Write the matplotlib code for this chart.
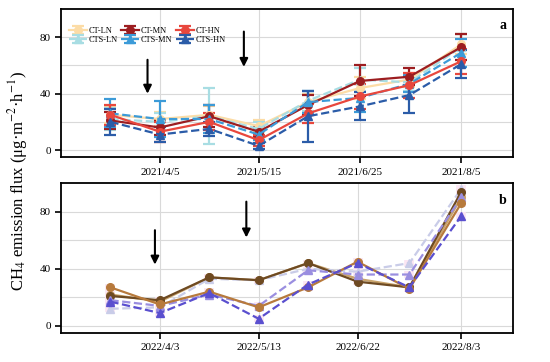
import matplotlib.pyplot as plt
import matplotlib.dates as mdates
import numpy as np
from datetime import date

plt.rcParams['font.family'] = ['Liberation Serif', 'DejaVu Serif']
plt.rcParams['mathtext.fontset'] = 'stix'

# sampling dates
dates_a = [date(2021, 3, 16), date(2021, 4, 5), date(2021, 4, 25), date(2021, 5, 15),
           date(2021, 6, 4), date(2021, 6, 25), date(2021, 7, 15), date(2021, 8, 5)]
dates_b = [date(2022, 3, 14), date(2022, 4, 3), date(2022, 4, 23), date(2022, 5, 13),
           date(2022, 6, 2), date(2022, 6, 22), date(2022, 7, 13), date(2022, 8, 3)]
ticks_a = [date(2021, 4, 5), date(2021, 5, 15), date(2021, 6, 25), date(2021, 8, 5)]
ticks_b = [date(2022, 4, 3), date(2022, 5, 13), date(2022, 6, 22), date(2022, 8, 3)]
ticklabels_a = ['2021/4/5', '2021/5/15', '2021/6/25', '2021/8/5']
ticklabels_b = ['2022/4/3', '2022/5/13', '2022/6/22', '2022/8/3']

names = ['CT-LN', 'CTS-LN', 'CT-MN', 'CTS-MN', 'CT-HN', 'CTS-HN']

# panel a (2021) means and errors, same order as names
a_ct_ln = [25, 22, 25, 17, 34, 44, 50, 75]
a_cts_ln = [22, 20, 24, 15, 35, 50, 48, 73]
a_ct_mn = [21, 16, 24, 13, 32, 49, 52, 73]
a_cts_mn = [26, 22, 22, 11, 34, 37, 47, 69]
a_ct_hn = [25, 13, 20, 7, 26, 38, 46, 63]
a_cts_hn = [20, 11, 15, 3, 24, 31, 39, 61]

a_err_ct_ln = [6, 5, 6, 4, 6, 8, 5, 7]
a_err_cts_ln = [8, 6, 20, 5, 7, 8, 6, 9]
a_err_ct_mn = [6, 5, 8, 4, 7, 11, 6, 9]
a_err_cts_mn = [10, 13, 10, 4, 8, 10, 6, 10]
a_err_ct_hn = [7, 7, 6, 4, 7, 9, 9, 9]
a_err_cts_hn = [9, 5, 5, 2, 18, 10, 13, 10]

# panel b (2022)
b_ct_ln = [22, 17, 34, 32, 44, 33, 27, 90]
b_cts_ln = [12, 13, 33, 32, 40, 38, 44, 96]
b_ct_mn = [21, 18, 34, 32, 44, 31, 27, 94]
b_cts_mn = [18, 14, 22, 14, 39, 36, 36, 90]
b_ct_hn = [27, 15, 24, 13, 27, 45, 26, 86]
b_cts_hn = [17, 9, 23, 5, 29, 44, 27, 77]

colors_a = ['#fcdca6', '#a8dde3', '#9c1d20', '#3c9bd8', '#e8473d', '#2b5ca8']
colors_b = ['#c9a46c', '#c9cce8', '#6e4a22', '#9a8ee0', '#b77a3c', '#5a4fcf']

data_a = [a_ct_ln, a_cts_ln, a_ct_mn, a_cts_mn, a_ct_hn, a_cts_hn]
err_a = [a_err_ct_ln, a_err_cts_ln, a_err_ct_mn, a_err_cts_mn, a_err_ct_hn, a_err_cts_hn]
data_b = [b_ct_ln, b_cts_ln, b_ct_mn, b_cts_mn, b_ct_hn, b_cts_hn]

fig = plt.figure(figsize=(5.5, 3.62), dpi=100)
ax_a = fig.add_axes([0.111, 0.566, 0.822, 0.409])
ax_b = fig.add_axes([0.111, 0.080, 0.822, 0.414])

for i, name in enumerate(names):
    is_cts = name.startswith('CTS')
    ls = '--' if is_cts else '-'
    mk = '^' if is_cts else 'o'
    ax_a.errorbar(dates_a, data_a[i], yerr=err_a[i], color=colors_a[i], ls=ls,
                  marker=mk, ms=5.5, lw=1.6, capsize=4, capthick=1.6, elinewidth=1.6,
                  label=name, zorder=3)
    ax_b.errorbar(dates_b, data_b[i], yerr=2.5, color=colors_b[i], ls=ls,
                  marker=mk, ms=5.5, lw=1.6, capsize=0, ecolor='#fbe6f3',
                  elinewidth=7, zorder=3)

leg = ax_a.legend(ncol=3, loc='upper left', bbox_to_anchor=(0.0, 0.93), frameon=False,
                  fontsize=6, handlelength=2.2, columnspacing=0.4, labelspacing=0.1,
                  handletextpad=0.2)

arrows_a = [(date(2021, 3, 31), 66, 38), (date(2021, 5, 9), 86, 57)]
arrows_b = [(date(2022, 4, 1), 69, 41), (date(2022, 5, 8), 89, 60)]

for ax, arrows, ticks, labels, dts, tag in [
        (ax_a, arrows_a, ticks_a, ticklabels_a, dates_a, 'a'),
        (ax_b, arrows_b, ticks_b, ticklabels_b, dates_b, 'b')]:
    for d, y0, y1 in arrows:
        ax.annotate('', xy=(d, y1), xytext=(d, y0),
                    arrowprops=dict(arrowstyle='-|>', color='black', lw=1.5,
                                    mutation_scale=12))
    ax.set_ylim(-5, 100)
    ax.set_yticks([0, 40, 80])
    ax.set_yticks([20, 60], minor=True)
    ax.tick_params(axis='y', which='minor', length=0)
    ax.set_xticks(mdates.date2num(ticks))
    ax.set_xticklabels(labels)
    x0 = mdates.date2num(dts[1]) - 40
    x1 = mdates.date2num(dts[-1]) + 21
    ax.set_xlim(x0, x1)
    ax.grid(True, which='both', color='#d9d9d9', lw=0.8, zorder=0)
    ax.set_axisbelow(True)
    ax.tick_params(labelsize=8, direction='out', length=4, width=1.2)
    for s in ax.spines.values():
        s.set_linewidth(1.3)
    ax.text(0.985, 0.93, tag, transform=ax.transAxes, ha='right', va='top',
            fontsize=10, fontweight='bold')

fig.text(0.033, 0.5, 'CH$_4$ emission flux (μg·m$^{-2}$·h$^{-1}$)', rotation=90,
         ha='center', va='center', fontsize=12)

fig.savefig('out.png', dpi=100)
